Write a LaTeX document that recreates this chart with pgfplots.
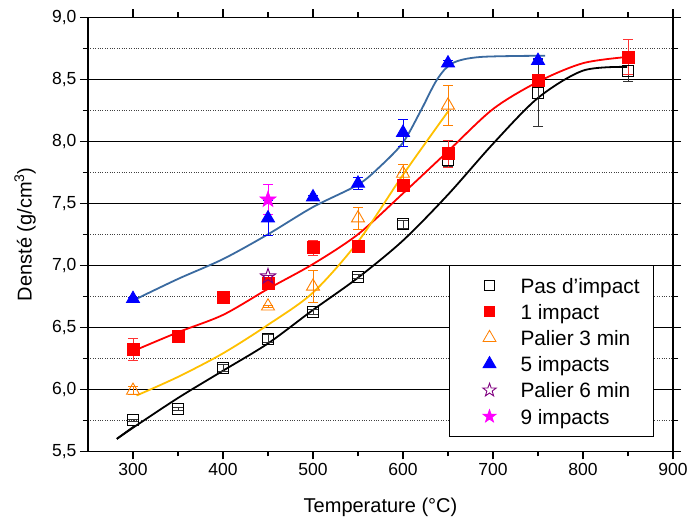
\documentclass[border=0pt]{standalone}
\usepackage{pgfplots}
\pgfplotsset{compat=1.18}
\usepackage{fontspec}
\setmainfont{Liberation Sans}
\definecolor{cblue}{HTML}{3A6AA0}
\definecolor{corange}{HTML}{FF8000}
\definecolor{cyellow}{HTML}{FFC000}
\definecolor{cpurple}{HTML}{800080}
\definecolor{cmag}{HTML}{FF00FF}
\def\pstarpath{%
  \pgfpathmoveto{\pgfpointpolar{90}{\pgfplotmarksize}}%
  \pgfpathlineto{\pgfpointpolar{126}{0.4\pgfplotmarksize}}%
  \pgfpathlineto{\pgfpointpolar{162}{\pgfplotmarksize}}%
  \pgfpathlineto{\pgfpointpolar{198}{0.4\pgfplotmarksize}}%
  \pgfpathlineto{\pgfpointpolar{234}{\pgfplotmarksize}}%
  \pgfpathlineto{\pgfpointpolar{270}{0.4\pgfplotmarksize}}%
  \pgfpathlineto{\pgfpointpolar{306}{\pgfplotmarksize}}%
  \pgfpathlineto{\pgfpointpolar{342}{0.4\pgfplotmarksize}}%
  \pgfpathlineto{\pgfpointpolar{18}{\pgfplotmarksize}}%
  \pgfpathlineto{\pgfpointpolar{54}{0.4\pgfplotmarksize}}%
  \pgfpathclose}
\pgfdeclareplotmark{pstar}{\pstarpath\pgfusepathqstroke}
\pgfdeclareplotmark{pstar*}{\pstarpath\pgfusepathqfillstroke}
\pgfplotsset{lgmark/.style={legend image code/.code={\path[draw=none,fill=none] (-26pt,-1pt) rectangle (31pt,1pt); \draw[##1, only marks] plot coordinates {(0pt,0pt)};}},
  ebar/.style={error bars/error bar style={#1, line width=0.9pt},
    error bars/error mark options={#1, rotate=90, mark size=5pt, line width=0.9pt}}}

\pgfplotstableread{
x y e
300 5.75 0.01
350 5.84 0.01
400 6.17 0.03
450 6.41 0.03
500 6.62 0.02
550 6.91 0.02
600 7.33 0.03
650 7.85 0.05
750 8.39 0.27
850 8.57 0.09
}\tblA
\pgfplotstableread{
x y e
300 6.32 0.09
350 6.43 0.01
400 6.74 0.03
450 6.85 0.02
500 7.14 0.06
550 7.15 0.05
600 7.64 0.02
650 7.90 0.11
750 8.49 0.02
850 8.68 0.14
}\tblB
\pgfplotstableread{
x y e
300 5.99 0.03
450 6.67 0.01
500 6.83 0.13
550 7.38 0.09
600 7.74 0.07
650 8.29 0.16
}\tblC
\pgfplotstableread{
x y e
300 6.73 0.01
450 7.38 0.14
500 7.55 0.01
550 7.66 0.05
600 8.07 0.11
650 8.63 0.02
750 8.65 0.02
}\tblD
\pgfplotstableread{
x y e
450 6.91 0.01
}\tblE
\pgfplotstableread{
x y e
450 7.53 0.12
}\tblF

\begin{document}
\begin{tikzpicture}
\begin{axis}[
  scale only axis, width=585pt, height=434pt,
  xmin=250, xmax=900, ymin=5.5, ymax=9.0,
  xtick={300,400,...,900}, minor x tick num=1,
  ytick={5.5,6.0,...,9.0}, minor y tick num=1,
  ymajorgrids, yminorgrids,
  major grid style={black, line width=0.7pt},
  minor grid style={black!75, dotted, line width=0.6pt},
  axis line style={line width=1.3pt},
  tick style={black, line width=1.1pt},
  major tick length=8pt, minor tick length=5pt,
  tick align=outside,
  /pgf/number format/assume math mode=true,
  ticklabel style={font=\fontsize{17.5}{20}\selectfont},
  yticklabel style={/pgf/number format/.cd, fixed, fixed zerofill, precision=1, use comma},
  xlabel={Temperature (°C)},
  ylabel={Densté (g/cm\textsuperscript{3})},
  label style={font=\fontsize{20}{24}\selectfont},
  xlabel style={at={(axis description cs:0.5,0)}, anchor=center, yshift=-56pt},
  ylabel style={at={(axis description cs:0,0.5)}, anchor=center, yshift=63pt},
  legend style={at={(0.9675,0.033)}, anchor=south east, draw=black, line width=0.8pt,
    font=\fontsize{20.8}{24}\selectfont, inner xsep=14pt, inner ysep=11pt, row sep=7.9pt,
    nodes={inner sep=0pt, text height=16.8pt, text depth=1.5pt}},
  legend cell align=left,
  error bars/y dir=both, error bars/y explicit,
]
% legend images
\addlegendimage{only marks, mark=square, mark size=4.7pt, black, line width=0.8pt, lgmark}
\addlegendentry{Pas d'impact}
\addlegendimage{only marks, mark=square*, mark size=5pt, red, line width=0.8pt, lgmark}
\addlegendentry{1 impact}
\addlegendimage{only marks, mark=triangle, mark size=7.5pt, corange, line width=0.8pt, lgmark}
\addlegendentry{Palier 3 min}
\addlegendimage{only marks, mark=triangle*, mark size=7.5pt, blue, line width=0.8pt, lgmark}
\addlegendentry{5 impacts}
\addlegendimage{only marks, mark=pstar, mark size=7pt, cpurple, line width=0.9pt, lgmark}
\addlegendentry{Palier 6 min}
\addlegendimage{only marks, mark=pstar*, mark size=7pt, cmag, line width=0.6pt, lgmark}
\addlegendentry{9 impacts}
% fitted curves
\addplot[black, line width=1.8pt, forget plot] coordinates {(301,5.70) (282,5.60)};
\addplot[black, line width=1.8pt, smooth, forget plot] coordinates {
(282,5.60) (300,5.69) (350,5.93) (400,6.15) (450,6.37) (500,6.64) (550,6.90) (600,7.20) (650,7.57) (700,7.98) (750,8.35) (800,8.57) (849,8.60)};
\addplot[red, line width=1.8pt, smooth, forget plot] coordinates {
(304,6.32) (350,6.46) (400,6.60) (450,6.81) (500,7.01) (550,7.25) (600,7.58) (650,7.92) (700,8.26) (750,8.48) (800,8.63) (849,8.68)};
\addplot[cyellow, line width=1.8pt, smooth, forget plot] coordinates {
(304,5.95) (350,6.10) (400,6.29) (450,6.52) (500,6.78) (550,7.19) (600,7.73) (651,8.25)};
\addplot[cblue, line width=1.8pt, smooth, forget plot] coordinates {
(304,6.73) (350,6.89) (400,7.05) (450,7.25) (500,7.47) (550,7.65) (575,7.80) (600,7.99) (620,8.25) (638,8.50) (655,8.63) (686,8.68) (758,8.69)};
% data
\addplot[only marks, mark=square, mark size=5.5pt, black, line width=0.9pt, forget plot, ebar=black!80]
  table[x=x, y=y, y error=e] {\tblA};
\addplot[only marks, mark=square*, mark size=6pt, red, line width=0.9pt, forget plot, ebar=red!80]
  table[x=x, y=y, y error=e] {\tblB};
\addplot[only marks, mark=triangle, mark size=7.5pt, corange, line width=0.9pt, forget plot, ebar=corange]
  table[x=x, y=y, y error=e] {\tblC};
\addplot[only marks, mark=triangle*, mark size=7.5pt, blue, line width=0.9pt, forget plot, ebar=blue]
  table[x=x, y=y, y error=e] {\tblD};
\addplot[only marks, mark=pstar, mark size=8pt, cpurple, line width=1pt, forget plot, ebar=cpurple]
  table[x=x, y=y, y error=e] {\tblE};
\addplot[only marks, mark=pstar*, mark size=8.5pt, cmag, line width=0.6pt, forget plot, ebar=cmag]
  table[x=x, y=y, y error=e] {\tblF};
\end{axis}
\pgfresetboundingbox
\path ([xshift=-88pt,yshift=-67.7pt]current axis.south west) rectangle ([xshift=16pt,yshift=17.3pt]current axis.north east);
\end{tikzpicture}
\end{document}
